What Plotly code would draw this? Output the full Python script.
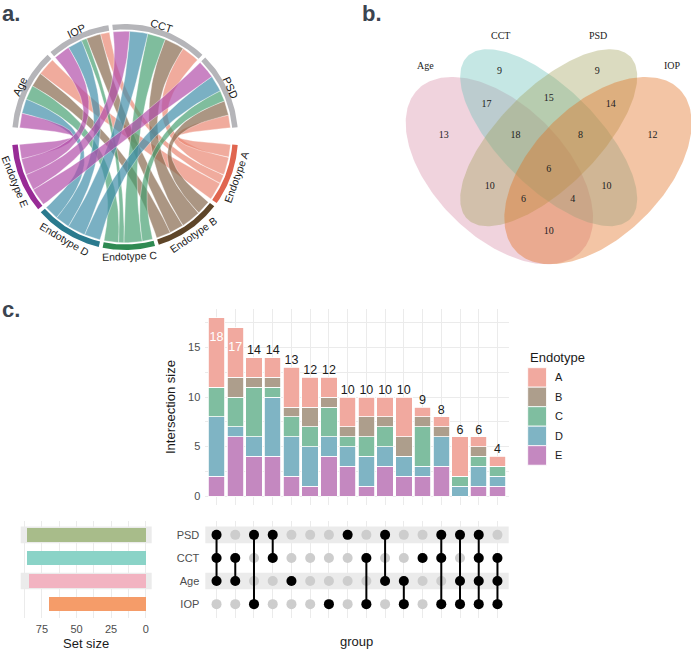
import numpy as np
import plotly.graph_objects as go

W, H = 691, 650
def fx(p): return p / W
def fy(p): return 1 - p / H

# ---------------- data ----------------
# a. chord diagram (feature x endotype link weights)
chord_sectors = ["Age", "IOP", "CCT", "PSD"]
endotypes = ["A", "B", "C", "D", "E"]
chord_age = [10, 8, 8, 8, 8]
chord_iop = [5, 8, 3, 8, 9]
chord_cct = [10, 11, 10, 10, 9]
chord_psd = [7, 8, 6, 9, 10]

# b. venn diagram
venn_sets = ["Age", "CCT", "PSD", "IOP"]
venn_regions = ["Age", "CCT", "PSD", "IOP", "Age&CCT", "CCT&PSD", "PSD&IOP",
                "Age&CCT&PSD", "CCT&PSD&IOP", "Age&CCT&PSD&IOP", "Age&PSD",
                "CCT&IOP", "Age&PSD&IOP", "Age&CCT&IOP", "Age&IOP"]
venn_counts = [13, 9, 9, 12, 17, 15, 14, 18, 8, 6, 10, 10, 6, 4, 10]

# c. upset plot
intersection_size = [18, 17, 14, 14, 13, 12, 12, 10, 10, 10, 10, 9, 8, 6, 6, 4]
endo_E = [2, 6, 4, 4, 2, 1, 4, 3, 1, 3, 2, 2, 3, 0, 1, 1]
endo_D = [6, 1, 2, 6, 4, 4, 2, 2, 3, 2, 2, 1, 3, 1, 2, 1]
endo_C = [3, 3, 5, 1, 2, 2, 3, 1, 2, 2, 0, 4, 0, 1, 1, 1]
endo_B = [0, 2, 1, 1, 1, 2, 1, 1, 2, 1, 2, 1, 1, 0, 1, 0]
endo_A = [7, 5, 2, 2, 4, 3, 2, 3, 2, 2, 4, 1, 1, 4, 1, 1]
set_names = ["PSD", "CCT", "Age", "IOP"]
set_size = [86, 86, 84, 70]
member_PSD = [1, 0, 1, 1, 0, 0, 0, 1, 0, 1, 0, 0, 1, 1, 1, 0]
member_CCT = [1, 1, 0, 1, 0, 0, 0, 0, 1, 0, 0, 1, 1, 0, 1, 1]
member_Age = [1, 1, 0, 0, 1, 0, 0, 0, 0, 1, 1, 0, 0, 1, 1, 1]
member_IOP = [0, 0, 1, 0, 0, 0, 1, 0, 1, 0, 1, 0, 1, 1, 1, 1]

# ---------------- styles ----------------
ring_col = {"A": "#E0654F", "B": "#5E4528", "C": "#2E8A52", "D": "#2A7A8E", "E": "#982B96"}
link_col = {"A": "rgba(233,135,115,0.7)", "B": "rgba(135,106,78,0.7)",
            "C": "rgba(66,158,110,0.68)", "D": "rgba(66,143,170,0.7)",
            "E": "rgba(178,78,170,0.7)"}
bar_col = {"A": "#F1A99F", "B": "#AD9E8C", "C": "#7FBEA0", "D": "#7FB4C4", "E": "#C488C0"}
set_col = {"PSD": "#A8BC8A", "CCT": "#8AD3C7", "Age": "#F2B3C1", "IOP": "#F59C69"}
venn_fill = {"Age": "rgba(215,140,165,0.38)", "CCT": "rgba(110,195,188,0.40)",
             "PSD": "rgba(160,160,90,0.38)", "IOP": "rgba(225,110,30,0.40)"}
SANS = "Liberation Sans, Arial, sans-serif"
SERIF = "Liberation Serif, Times New Roman, serif"
GRID = "#EBEBEB"

fig = go.Figure()
ann = []
shapes = []

# ================= a. chord diagram =================
mat = np.array([chord_age, chord_iop, chord_cct, chord_psd], float)
R_OUT, R_IN, R_LINK = 113.0, 107.5, 105.8
gap = 2.0
k = (170 - 3 * gap) / mat.sum()

top_spans = []
a = 175.0
for i in range(mat.shape[0]):
    w = mat[i].sum() * k
    top_spans.append((a, a - w))
    a -= w + gap
bot_spans = []
b = -4.0
for j in range(mat.shape[1]):
    w = mat[:, j].sum() * k
    bot_spans.append((b, b - w))
    b -= w + gap

def arc(r, a1, a2, n=40):
    t = np.radians(np.linspace(a1, a2, n))
    return list(r * np.cos(t)), list(r * np.sin(t))

def bez(p0, p2, n=40):
    t = np.linspace(0, 1, n)
    x = (1 - t) ** 2 * p0[0] + t ** 2 * p2[0]
    y = (1 - t) ** 2 * p0[1] + t ** 2 * p2[1]
    return list(x), list(y)

def pt(r, ang):
    return (r * np.cos(np.radians(ang)), r * np.sin(np.radians(ang)))

top_slot = {}
for i in range(mat.shape[0]):
    cur = top_spans[i][0]
    for j in reversed(range(mat.shape[1])):
        w = mat[i, j] * k
        top_slot[(i, j)] = (cur, cur - w)
        cur -= w
bot_slot = {}
for j in range(mat.shape[1]):
    cur = bot_spans[j][0]
    for i in reversed(range(mat.shape[0])):
        w = mat[i, j] * k
        bot_slot[(i, j)] = (cur, cur - w)
        cur -= w

for j in range(mat.shape[1]):
    for i in range(mat.shape[0]):
        t1, t2 = top_slot[(i, j)]
        b1, b2 = bot_slot[(i, j)]
        xs, ys = [], []
        ax, ay = arc(R_LINK, t1, t2); xs += ax; ys += ay
        bx, by = bez(pt(R_LINK, t2), pt(R_LINK, b1)); xs += bx; ys += by
        ax, ay = arc(R_LINK, b1, b2); xs += ax; ys += ay
        bx, by = bez(pt(R_LINK, b2), pt(R_LINK, t1)); xs += bx; ys += by
        fig.add_trace(go.Scatter(x=xs, y=ys, mode="lines", fill="toself",
                                 fillcolor=link_col[endotypes[j]],
                                 line=dict(color="rgba(255,255,255,0.7)", width=0.5),
                                 hoverinfo="skip", xaxis="x", yaxis="y"))

def ring(a1, a2, color):
    ox, oy = arc(R_OUT, a1, a2)
    ix, iy = arc(R_IN, a2, a1)
    fig.add_trace(go.Scatter(x=ox + ix, y=oy + iy, mode="lines", fill="toself",
                             fillcolor=color, line=dict(width=0), hoverinfo="skip",
                             xaxis="x", yaxis="y"))

for i, name in enumerate(chord_sectors):
    a1, a2 = top_spans[i]
    ring(a1, a2, "#B5B5B9")
    m = (a1 + a2) / 2
    x, y = pt(116.5, m)
    ann.append(dict(x=x, y=y, xref="x", yref="y", text=name, showarrow=False,
                    xanchor="center", yanchor="middle",
                    textangle=90 - m, font=dict(size=11, family=SANS, color="#1A1A1A")))
for j, e in enumerate(endotypes):
    a1, a2 = bot_spans[j]
    ring(a1, a2, ring_col[e])
    m = (a1 + a2) / 2
    x, y = pt(118.8, m)
    ann.append(dict(x=x, y=y, xref="x", yref="y", text="Endotype " + e, showarrow=False,
                    xanchor="center", yanchor="middle", borderpad=0,
                    textangle=-90 - m, font=dict(size=10.5, family=SANS, color="#1A1A1A")))

# ================= b. venn diagram =================
def u_of(p): return 0.5 + (p - 548.7) / 328.7
def v_of(p): return 0.839 - (p - 49.3) / 328.7

ell = {"Age": (0.35, 0.47, 0.35, 0.20, -45), "CCT": (0.50, 0.57, 0.35, 0.15, -45),
       "PSD": (0.50, 0.57, 0.35, 0.15, 45), "IOP": (0.65, 0.47, 0.35, 0.20, 45)}
for s in venn_sets:
    cx, cy, ea, eb, ang = ell[s]
    t = np.linspace(0, 2 * np.pi, 240)
    ex, ey = ea * np.cos(t), eb * np.sin(t)
    c, sn = np.cos(np.radians(ang)), np.sin(np.radians(ang))
    fig.add_trace(go.Scatter(x=cx + ex * c - ey * sn, y=cy + ex * sn + ey * c,
                             mode="lines", fill="toself", fillcolor=venn_fill[s],
                             line=dict(width=0), hoverinfo="skip", xaxis="x2", yaxis="y2"))

venn_label_pos = {"Age": (0.124, 0.791), "CCT": (0.352, 0.88),
                  "PSD": (0.649, 0.88), "IOP": (0.877, 0.791)}
for s in venn_sets:
    ann.append(dict(x=venn_label_pos[s][0], y=venn_label_pos[s][1], xref="x2", yref="y2",
                    text=s, showarrow=False, xanchor="center", yanchor="middle",
                    font=dict(size=10, family=SERIF, color="#222")))
region_pos = {"Age": (0.181, 0.578), "CCT": (0.35, 0.771), "PSD": (0.648, 0.771),
              "IOP": (0.816, 0.578), "Age&CCT": (0.311, 0.67), "CCT&PSD": (0.5, 0.69),
              "PSD&IOP": (0.689, 0.67), "Age&CCT&PSD": (0.399, 0.578),
              "CCT&PSD&IOP": (0.597, 0.578), "Age&CCT&PSD&IOP": (0.5, 0.472),
              "Age&PSD": (0.321, 0.421), "CCT&IOP": (0.676, 0.421),
              "Age&PSD&IOP": (0.423, 0.381), "Age&CCT&IOP": (0.573, 0.381),
              "Age&IOP": (0.5, 0.284)}
fig.add_trace(go.Scatter(x=[region_pos[r][0] for r in venn_regions],
                         y=[region_pos[r][1] for r in venn_regions],
                         text=[str(v) for v in venn_counts], mode="text",
                         textfont=dict(size=10, family=SERIF, color="#222"),
                         hoverinfo="skip", xaxis="x2", yaxis="y2"))

# ================= c. upset =================
cols = list(range(1, len(intersection_size) + 1))
for e, vals in zip(["E", "D", "C", "B", "A"], [endo_E, endo_D, endo_C, endo_B, endo_A]):
    fig.add_trace(go.Bar(x=cols, y=vals, marker=dict(color=bar_col[e],
                         line=dict(color="white", width=0.8)), width=0.88,
                         hoverinfo="skip", xaxis="x3", yaxis="y3"))
lab_y = [v - 2 if v > 16 else v + 0.62 for v in intersection_size]
lab_c = ["white" if v > 16 else "#1A1A1A" for v in intersection_size]
fig.add_trace(go.Scatter(x=cols, y=lab_y, text=[str(v) for v in intersection_size],
                         mode="text", textposition="middle center",
                         textfont=dict(size=12.5, family=SANS, color=lab_c),
                         hoverinfo="skip", xaxis="x3", yaxis="y3"))

# matrix
row_of = {"PSD": 4, "CCT": 3, "Age": 2, "IOP": 1}
members = {"PSD": member_PSD, "CCT": member_CCT, "Age": member_Age, "IOP": member_IOP}
for s in ("PSD", "Age"):
    for xr, yr in (("x4 domain", "y4"), ("x5 domain", "y5")):
        shapes.append(dict(type="rect", xref=xr, yref=yr, x0=0, x1=1,
                           y0=row_of[s] - 0.36, y1=row_of[s] + 0.36, fillcolor="#EBEBEB",
                           line=dict(width=0), layer="below"))
gx, gy = [], []
for s in set_names:
    for c in cols:
        gx.append(c); gy.append(row_of[s])
fig.add_trace(go.Scatter(x=gx, y=gy, mode="markers",
                         marker=dict(size=10, color="#CDCDCD"), hoverinfo="skip",
                         xaxis="x4", yaxis="y4"))
lx, ly, bxs, bys = [], [], [], []
for ci, c in enumerate(cols):
    rows = [row_of[s] for s in set_names if members[s][ci]]
    for r in rows:
        bxs.append(c); bys.append(r)
    if len(rows) > 1:
        lx += [c, c, None]; ly += [min(rows), max(rows), None]
fig.add_trace(go.Scatter(x=lx, y=ly, mode="lines", line=dict(color="black", width=2),
                         hoverinfo="skip", xaxis="x4", yaxis="y4"))
fig.add_trace(go.Scatter(x=bxs, y=bys, mode="markers", marker=dict(size=10, color="black"),
                         hoverinfo="skip", xaxis="x4", yaxis="y4"))

# set sizes
fig.add_trace(go.Bar(x=set_size, y=[row_of[s] for s in set_names], orientation="h",
                     marker=dict(color=[set_col[s] for s in set_names], line=dict(width=0)),
                     width=0.6, hoverinfo="skip", xaxis="x5", yaxis="y5"))

# legend (manual, ggplot style)
ann.append(dict(x=fx(527.7), y=fy(357), xref="paper", yref="paper", text="Endotype",
                xanchor="left", yanchor="middle", showarrow=False,
                font=dict(size=13, family=SANS, color="#1A1A1A")))
for n, e in enumerate(endotypes):
    y0 = 367.7 + 19.5 * n
    shapes.append(dict(type="rect", xref="paper", yref="paper", x0=fx(527.7), x1=fx(546.5),
                       y0=fy(y0 + 19.5), y1=fy(y0), fillcolor=bar_col[e],
                       line=dict(color="white", width=0.8), layer="above"))
    ann.append(dict(x=fx(553), y=fy(y0 + 9.75), xref="paper", yref="paper", text=e,
                    xanchor="left", yanchor="middle", showarrow=False,
                    font=dict(size=11, family=SANS, color="#1A1A1A")))

# axis titles
ann.append(dict(x=fx(170), y=fy(407), xref="paper", yref="paper", text="Intersection size",
                xanchor="center", yanchor="middle",
                textangle=-90, showarrow=False, font=dict(size=13, family=SANS, color="#1A1A1A")))
ann.append(dict(x=fx(86), y=fy(643), xref="paper", yref="paper", text="Set size",
                xanchor="center", yanchor="middle",
                showarrow=False, font=dict(size=13, family=SANS, color="#1A1A1A")))
ann.append(dict(x=fx(357), y=fy(641), xref="paper", yref="paper", text="group",
                xanchor="center", yanchor="middle",
                showarrow=False, font=dict(size=13, family=SANS, color="#1A1A1A")))

# panel tags
for tag, (x, y) in {"a.": (1, 13), "b.": (361, 13.5), "c.": (1, 309.5)}.items():
    ann.append(dict(x=fx(x), y=fy(y), xref="paper", yref="paper", text="<b>" + tag + "</b>",
                    xanchor="left", yanchor="middle", showarrow=False, borderpad=0,
                    font=dict(size=22, family=SANS, color="#3B4450")))

tickfont = dict(size=11, family=SANS, color="#4D4D4D")
fig.update_layout(
    width=W, height=H, autosize=False, margin=dict(l=0, r=0, t=0, b=0),
    paper_bgcolor="white", plot_bgcolor="rgba(0,0,0,0)", showlegend=False,
    barmode="stack", font=dict(family=SANS, color="#1A1A1A"),
    annotations=ann, shapes=shapes,
    xaxis=dict(domain=[0, fx(250)], range=[-125, 125], visible=False),
    yaxis=dict(domain=[fy(262), fy(12)], range=[-125, 125], visible=False),
    xaxis2=dict(domain=[fx(375), 1], range=[u_of(375), u_of(691)], visible=False, anchor="y2"),
    yaxis2=dict(domain=[fy(272), fy(20)], range=[v_of(272), v_of(20)], visible=False, anchor="x2"),
    xaxis3=dict(domain=[fx(205.3), fx(508.7)], range=[0.4, 16.6], anchor="y3",
                tickvals=cols, showticklabels=False, ticks="", showgrid=True,
                gridcolor=GRID, gridwidth=1.1, zeroline=False, showline=False),
    yaxis3=dict(domain=[fy(505), fy(309)], range=[-0.9, 18.9], anchor="x3",
                tickvals=[0, 5, 10, 15], ticks="", showgrid=True, gridcolor=GRID,
                gridwidth=1.1, zeroline=False, showline=False, tickfont=tickfont,
                ticklabelstandoff=4,
                minor=dict(tickvals=[2.5, 7.5, 12.5, 17.5], showgrid=True,
                           gridcolor=GRID, gridwidth=0.6, ticks="")),
    xaxis4=dict(domain=[fx(205.3), fx(508.7)], range=[0.4, 16.6], anchor="y4",
                tickvals=cols, showticklabels=False, ticks="", showgrid=True,
                gridcolor=GRID, gridwidth=1.1, zeroline=False, showline=False),
    yaxis4=dict(domain=[fy(618), fy(521)], range=[0.4, 4.6], anchor="x4",
                tickvals=[row_of[s] for s in set_names], ticktext=set_names,
                ticks="", showgrid=False, zeroline=False, showline=False,
                tickfont=tickfont, ticklabelstandoff=5),
    xaxis5=dict(domain=[fx(20.7), fx(151.7)], range=[90.3, -4.3], anchor="y5",
                tickvals=[0, 25, 50, 75], ticks="", showgrid=True, gridcolor=GRID,
                gridwidth=1.1, zeroline=False, showline=False, tickfont=tickfont,
                ticklabelstandoff=3,
                minor=dict(tickvals=[12.5, 37.5, 62.5, 87.5], showgrid=True,
                           gridcolor=GRID, gridwidth=0.6, ticks="")),
    yaxis5=dict(domain=[fy(618), fy(521)], range=[0.4, 4.6], anchor="x5",
                showticklabels=False, ticks="", showgrid=False, zeroline=False,
                showline=False),
)

fig.write_html("out.html", config={"displayModeBar": False},
               post_script="document.body.style.margin='0';document.body.style.overflow='hidden';")
